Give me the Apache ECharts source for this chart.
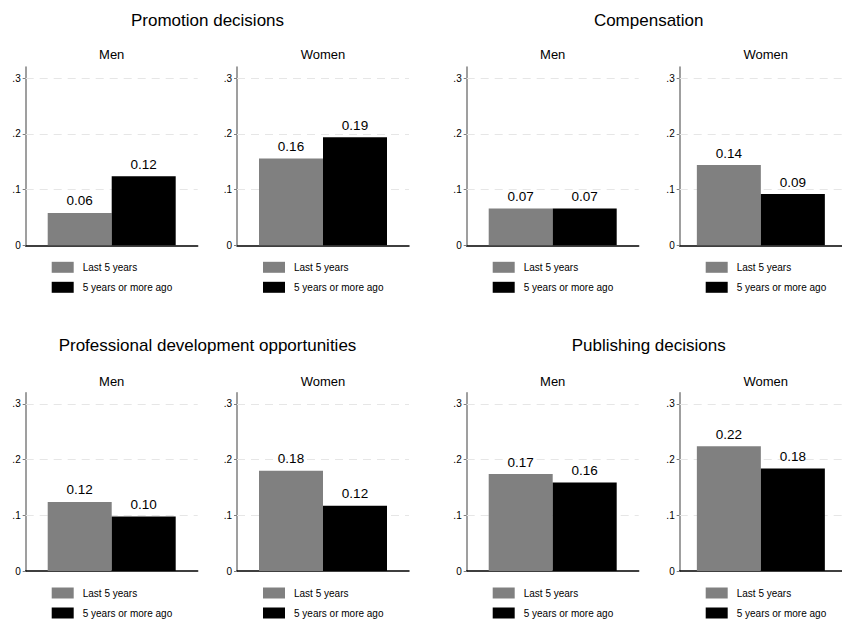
<!DOCTYPE html>
<html><head><meta charset="utf-8">
<script src="https://cdn.jsdelivr.net/npm/echarts@6/dist/echarts.min.js"></script>
<style>html,body{margin:0;padding:0;background:#fff}#c{width:842px;height:623px}</style>
</head><body><div id="c"></div>
<script>
// ---- data ----
const panelTitles = ["Promotion decisions", "Compensation", "Professional development opportunities", "Publishing decisions"];
const groups = ["Men", "Women"];
const seriesNames = ["Last 5 years", "5 years or more ago"];
const last5Men    = [0.058, 0.066, 0.124, 0.174];
const last5Women  = [0.156, 0.144, 0.180, 0.224];
const olderMen    = [0.124, 0.066, 0.098, 0.159];
const olderWomen  = [0.194, 0.092, 0.117, 0.184];
const yTickValues = [0, 0.1, 0.2, 0.3];
const yTickLabels = ["0", ".1", ".2", ".3"];
const gridLineValues = [0.1, 0.2, 0.3];
const yMax = 0.32;

// ---- layout ----
const subLefts = [25.7, 237, 466.7, 679.7];
const subWidth = 172;
const rowTops = [67, 392.7];
const plotHeight = 178.3;
const panelCenters = [207.5, 648.7];
const titleY = [20, 345];
const subTitleY = [54.5, 381.5];
const colors = ["#808080", "#000000"];
const FONT = "'Liberation Sans', Arial, Helvetica, sans-serif";

const grids = [], xAxes = [], yAxes = [], series = [], legends = [], graphics = [];
const valuesBy = [[last5Men, olderMen], [last5Women, olderWomen]];

for (let p = 0; p < 4; p++) {
  const col = p % 2, row = Math.floor(p / 2);
  graphics.push({type: 'text', x: panelCenters[col], y: titleY[row],
    style: {text: panelTitles[p], fontSize: 17, fontFamily: FONT, fill: '#000', textAlign: 'center', textVerticalAlign: 'middle'}});
  for (let g = 0; g < 2; g++) {
    const idx = p * 2 + g;
    const left = subLefts[col * 2 + g];
    const top = rowTops[row];
    grids.push({left: left, top: top, width: subWidth, height: plotHeight, containLabel: false});
    xAxes.push({gridIndex: idx, type: 'category', data: [groups[g]], boundaryGap: true,
      axisLine: {show: true, onZero: false, lineStyle: {color: '#000', width: 1.5}},
      axisTick: {show: false}, axisLabel: {show: false}, splitLine: {show: false}});
    yAxes.push({gridIndex: idx, type: 'value', min: 0, max: yMax, interval: 0.1,
      axisLine: {show: true, lineStyle: {color: '#7f7f7f', width: 1.5}},
      axisTick: {show: true, length: 3, customValues: yTickValues, lineStyle: {color: '#7f7f7f', width: 1}},
      axisLabel: {customValues: yTickValues, margin: 5, fontSize: 10, fontFamily: FONT, color: '#000',
        formatter: function (v) {
          for (let k = 0; k < yTickValues.length; k++) if (Math.abs(v - yTickValues[k]) < 1e-9) return yTickLabels[k];
          return '';
        }},
      splitLine: {show: false}});
    for (let s = 0; s < 2; s++) {
      const ser = {type: 'bar', name: seriesNames[s], xAxisIndex: idx, yAxisIndex: idx,
        data: [valuesBy[g][s][p]], barWidth: 64, barGap: '0%',
        itemStyle: {color: colors[s]},
        label: {show: true, position: 'top', distance: 5, fontSize: 13.5, fontFamily: FONT, color: '#000',
          formatter: function (pp) { return pp.value.toFixed(2); }},
        z: 3};
      if (s === 0) {
        ser.markLine = {silent: true, symbol: 'none', label: {show: false}, z: 1,
          lineStyle: {color: '#e6e6e6', type: [8, 6], width: 1},
          data: gridLineValues.map(v => ({yAxis: v}))};
      }
      series.push(ser);
    }
    legends.push({data: seriesNames, orient: 'vertical', left: left + 26, top: top + plotHeight + 16.5,
      width: 140, height: 34, padding: 0,
      itemWidth: 22, itemHeight: 11, itemGap: 9, icon: 'rect', selectedMode: false,
      textStyle: {fontSize: 10, fontFamily: FONT, color: '#000', padding: [0, 0, 0, 4]}});
    graphics.push({type: 'text', x: left + subWidth / 2, y: subTitleY[row],
      style: {text: groups[g], fontSize: 13, fontFamily: FONT, fill: '#000', textAlign: 'center', textVerticalAlign: 'middle'}});
  }
}

const chart = echarts.init(document.getElementById('c'), null, {renderer: 'svg'});
chart.setOption({
  animation: false,
  backgroundColor: '#fff',
  grid: grids, xAxis: xAxes, yAxis: yAxes, series: series, legend: legends, graphic: graphics
});
</script></body></html>
